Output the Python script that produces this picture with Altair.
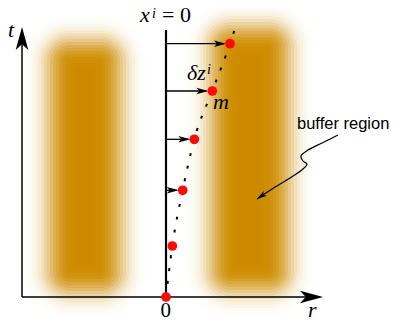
import math
import altair as alt
import pandas as pd

# ---- data (r: horizontal coordinate, t: vertical; origin where x^i = 0 meets the r axis)
pt_r = [0, 6.3, 16.7, 28.3, 46.3, 64]
pt_t = [0, 51, 106.7, 157.7, 206, 253.3]

wl_r = pt_r + [69.5]          # dotted worldline m
wl_t = pt_t + [270]

arr_r = [16.7, 28.3, 46.3, 64]   # delta z^i arrows
arr_t = [106.7, 157.7, 206, 253.3]

buf_r1 = [-116, 46]           # buffer regions (half-intensity edges)
buf_r2 = [-46, 122]
buf_t1 = [6, 7]
buf_t2 = [255, 269]

ax_r0 = -144                  # axes
t_axis_top = 270
r_axis_end = 157
zero_top = 267

curl_r = [172, 156, 142, 135, 137, 141, 137, 124, 106, 91]
curl_t = [162, 154, 147, 141, 136, 133, 128, 119, 108, 98]

lab_italic = ["t", "x", "δz", "m"]
lab_italic_r = [-158, -26, 21, 47]
lab_italic_t = [260, 275, 217, 188]
lab_big_italic = ["r"]
lab_big_italic_r = [142]
lab_big_italic_t = [-20]
lab_sup = ["i", "i"]
lab_sup_r = [-14, 41]
lab_sup_t = [279, 223]
lab_rom = ["= 0"]
lab_rom_r = [-4]
lab_rom_t = [275]
lab_zero = ["0"]
lab_zero_r = [-5.5]
lab_zero_t = [-20]
note = ["buffer region"]
note_r = [131]
note_t = [168]

# ---- scales
xs = alt.Scale(domain=[-158, 227], nice=False, zero=False)
ys = alt.Scale(domain=[-21, 289], nice=False, zero=False)

def X(f):
    return alt.X(f, type="quantitative", scale=xs, axis=None)

def Y(f):
    return alt.Y(f, type="quantitative", scale=ys, axis=None)

STEALTH = "M1,0 L-1,-0.55 L-0.5,0 L-1,0.55 Z"
BUF_COLOR = "#d28d00"

layers = []

# ---- blurred buffer regions (stacked translucent rects)
bars = pd.DataFrame({"r1": buf_r1, "r2": buf_r2, "t1": buf_t1, "t2": buf_t2})
sigma = 11.0
offs = [-27 + 3 * j for j in range(19)]
def Phi(z):
    return 0.5 * (1 + math.erf(z / math.sqrt(2)))
T = [Phi((o - 1.5) / sigma) for o in offs] + [1.0]
alphas = [1 - T[j] / T[j + 1] for j in range(len(offs))]
for o, a in zip(offs, alphas):
    layers.append(
        alt.Chart(bars)
        .transform_calculate(
            xa=f"datum.r1 - ({o})", xb=f"datum.r2 + ({o})",
            ya=f"datum.t1 - ({o})", yb=f"datum.t2 + ({o})")
        .mark_rect(color=BUF_COLOR, opacity=a, cornerRadius=max(1, o + 20))
        .encode(x=X("xa"), x2="xb:Q", y=Y("ya"), y2="yb:Q")
    )

# ---- axes
tax = pd.DataFrame({"r": [ax_r0], "t": [0], "t2": [t_axis_top - 8]})
layers.append(alt.Chart(tax).mark_rule(color="black", strokeWidth=1.5)
              .encode(x=X("r"), y=Y("t"), y2="t2:Q"))
rax = pd.DataFrame({"r": [ax_r0], "r2": [r_axis_end - 8], "t": [0]})
layers.append(alt.Chart(rax).mark_rule(color="black", strokeWidth=1.5)
              .encode(x=X("r"), x2="r2:Q", y=Y("t")))
layers.append(alt.Chart(pd.DataFrame({"r": [ax_r0], "t": [t_axis_top]}))
              .mark_point(shape=STEALTH, filled=True, size=529, angle=270, color="black",
                          opacity=1, strokeWidth=0, yOffset=11.5)
              .encode(x=X("r"), y=Y("t")))
layers.append(alt.Chart(pd.DataFrame({"r": [r_axis_end], "t": [0]}))
              .mark_point(shape=STEALTH, filled=True, size=529, angle=0, color="black",
                          opacity=1, strokeWidth=0, xOffset=-11.5)
              .encode(x=X("r"), y=Y("t")))

# ---- x^i = 0 line
layers.append(alt.Chart(pd.DataFrame({"r": [0], "t": [0], "t2": [zero_top]}))
              .mark_rule(color="black", strokeWidth=2.2)
              .encode(x=X("r"), y=Y("t"), y2="t2:Q"))

# ---- dotted worldline
wl = pd.DataFrame({"r": wl_r, "t": wl_t})
layers.append(alt.Chart(wl).mark_line(color="black", strokeWidth=2, strokeDash=[3, 10],
                                      interpolate="monotone")
              .encode(x=X("r"), y=Y("t"), order="t:Q"))

# ---- delta z arrows
arr = pd.DataFrame({"r0": [0] * len(arr_r), "r": arr_r, "t": arr_t})
layers.append(alt.Chart(arr).mark_rule(color="black", strokeWidth=1.3, x2Offset=-6)
              .encode(x=X("r0"), x2="r:Q", y=Y("t")))
layers.append(alt.Chart(arr).mark_point(shape=STEALTH, filled=True, size=144, color="black",
                                        opacity=1, strokeWidth=0, xOffset=-10)
              .encode(x=X("r"), y=Y("t")))

# ---- red points
pts = pd.DataFrame({"r": pt_r, "t": pt_t})
layers.append(alt.Chart(pts).mark_circle(size=95, color="#ff0a0a", opacity=1)
              .encode(x=X("r"), y=Y("t")))

# ---- curly annotation arrow
curl = pd.DataFrame({"r": curl_r, "t": curl_t, "i": list(range(len(curl_r)))})
layers.append(alt.Chart(curl).mark_line(color="black", strokeWidth=1.2, interpolate="catmull-rom")
              .encode(x=X("r"), y=Y("t"), order="i:Q"))
layers.append(alt.Chart(pd.DataFrame({"r": [curl_r[-1]], "t": [curl_t[-1]]}))
              .mark_point(shape=STEALTH, filled=True, size=100, angle=146, color="black",
                          opacity=1, strokeWidth=0, xOffset=4.1, yOffset=-2.8)
              .encode(x=X("r"), y=Y("t")))

# ---- labels
def text_layer(labels, rs, ts, **kw):
    df = pd.DataFrame({"r": rs, "t": ts, "s": labels})
    return (alt.Chart(df).mark_text(align="left", baseline="alphabetic", color="black", **kw)
            .encode(x=X("r"), y=Y("t"), text="s:N"))

layers.append(text_layer(lab_italic, lab_italic_r, lab_italic_t,
                         font="Liberation Serif", fontStyle="italic", fontSize=22))
layers.append(text_layer(lab_big_italic, lab_big_italic_r, lab_big_italic_t,
                         font="Liberation Serif", fontStyle="italic", fontSize=22))
layers.append(text_layer(lab_sup, lab_sup_r, lab_sup_t,
                         font="Liberation Serif", fontStyle="italic", fontSize=14))
layers.append(text_layer(lab_rom, lab_rom_r, lab_rom_t,
                         font="Liberation Serif", fontSize=22))
layers.append(text_layer(lab_zero, lab_zero_r, lab_zero_t,
                         font="Liberation Serif", fontSize=21))
layers.append(text_layer(note, note_r, note_t, font="Liberation Sans", fontSize=16.5))

chart = (alt.layer(*layers)
         .properties(width=385, height=310, padding=0, autosize="none")
         .configure_view(stroke=None))

chart.save("out.html", embed_options={"renderer": "svg", "actions": False})
